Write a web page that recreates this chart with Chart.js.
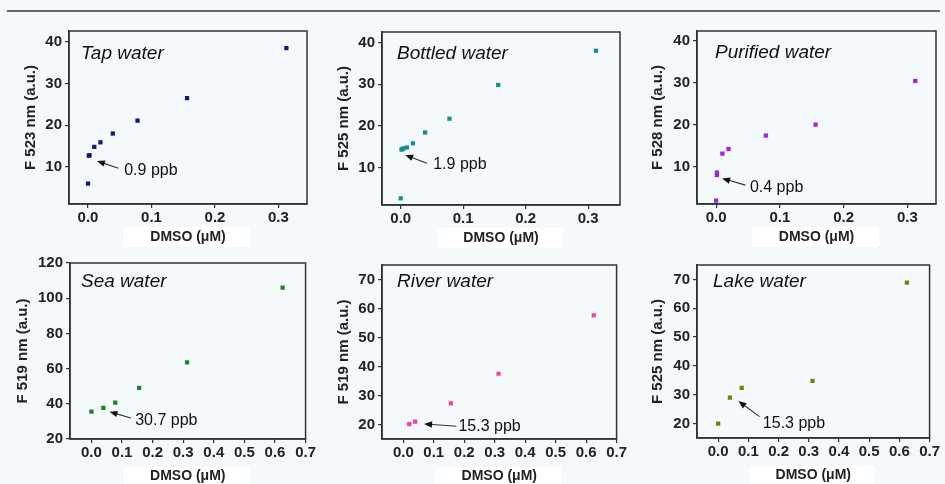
<!DOCTYPE html>
<html>
<head>
<meta charset="utf-8">
<script src="https://cdn.jsdelivr.net/npm/chart.js@4"></script>
<style>
  html, body { margin: 0; padding: 0; }
  body { width: 945px; height: 484px; overflow: hidden; background: #f4f9fc; position: relative; font-family: "Liberation Sans", Arial, sans-serif; }
  #topline { position: absolute; left: 7px; top: 10px; width: 933px; height: 2px; background: #666; }
  canvas { position: absolute; }
</style>
</head>
<body>
<div id="topline"></div>
<canvas id="c0"></canvas>
<canvas id="c1"></canvas>
<canvas id="c2"></canvas>
<canvas id="c3"></canvas>
<canvas id="c4"></canvas>
<canvas id="c5"></canvas>
<script>
// panel names and axis labels
const titles = ['Tap water', 'Bottled water', 'Purified water', 'Sea water', 'River water', 'Lake water']
const yTitles = ['F 523 nm (a.u.)', 'F 525 nm (a.u.)', 'F 528 nm (a.u.)', 'F 519 nm (a.u.)', 'F 519 nm (a.u.)', 'F 525 nm (a.u.)']
const xTitle = 'DMSO (\u03bcM)'
const lodLabels = ['0.9 ppb', '1.9 ppb', '0.4 ppb', '30.7 ppb', '15.3 ppb', '15.3 ppb']

// data (x = DMSO uM, y = fluorescence a.u.)
const tapX = [0, 0.0012, 0.0024, 0.0098, 0.0195, 0.039, 0.078, 0.156, 0.3125]
const tapY = [6.0, 12.7, 12.8, 14.8, 15.9, 18.0, 21.1, 26.5, 38.5]
const bottledX = [0, 0.0012, 0.0024, 0.0049, 0.0098, 0.0195, 0.039, 0.078, 0.156, 0.3125]
const bottledY = [2.6, 14.3, 14.4, 14.6, 14.8, 15.8, 18.4, 21.7, 29.8, 38.0]
const purifiedX = [0, 0.0012, 0.0012, 0.0098, 0.0195, 0.078, 0.156, 0.3125]
const purifiedY = [2.0, 8.1, 8.7, 13.2, 14.3, 17.5, 20.1, 30.5]
const seaX = [0, 0.039, 0.078, 0.156, 0.3125, 0.625]
const seaY = [35.5, 37.7, 40.7, 49.0, 63.6, 106.0]
const riverX = [0.0195, 0.039, 0.156, 0.3125, 0.625]
const riverY = [20.1, 21.0, 27.3, 37.5, 57.6]
const lakeX = [0, 0.039, 0.078, 0.3125, 0.625]
const lakeY = [20.0, 29.0, 32.4, 34.8, 68.9]

// tick labels
const xTicksTop = [0, 0.1, 0.2, 0.3]
const xTicksBottom = [0, 0.1, 0.2, 0.3, 0.4, 0.5, 0.6, 0.7]
const yTicksTop = [10, 20, 30, 40]
const yTicksSea = [20, 40, 60, 80, 100, 120]
const yTicksRiverLake = [20, 30, 40, 50, 60, 70]

const colors = ['#16167a', '#138f8f', '#a21ff0', '#16881a', '#ff3ea0', '#7d7d05']

// layout: plot box in page pixels, axis ranges, note anchors (data coords)
const panels = [
  { xs: tapX, ys: tapY, l: 69, r: 307, t: 29, b: 204, xr: [-0.03, 0.345], yr: [1.1, 42.6], xt: xTicksTop, yt: yTicksTop, top: true, ytPad: 22,
    note: { tx: 0.057, ty: 9.05, ax: 0.048, ay: 9.7, bx: 0.014, by: 11.4 }, tdx: 12, tdy: 23 },
  { xs: bottledX, ys: bottledY, l: 382, r: 620, t: 30, b: 205.5, xr: [-0.03, 0.351], yr: [1.0, 42.5], xt: xTicksTop, yt: yTicksTop, top: true, ytPad: 22,
    note: { tx: 0.052, ty: 10.6, ax: 0.042, ay: 11.0, bx: 0.007, by: 13.0 }, tdx: 15, tdy: 22 },
  { xs: purifiedX, ys: purifiedY, l: 697, r: 936, t: 29, b: 204, xr: [-0.03, 0.345], yr: [1.2, 42.4], xt: xTicksTop, yt: yTicksTop, top: true, ytPad: 21,
    note: { tx: 0.053, ty: 5.1, ax: 0.046, ay: 5.7, bx: 0.0094, by: 7.3 }, tdx: 18, tdy: 22 },
  { xs: seaX, ys: seaY, l: 70, r: 309, t: 261, b: 439, xr: [-0.07, 0.7], yr: [20, 120], xt: xTicksBottom, yt: yTicksSea, top: false, ytPad: 13,
    note: { tx: 0.143, ty: 30.4, ax: 0.129, ay: 31.9, bx: 0.059, by: 35.5 }, tdx: 11, tdy: 19 },
  { xs: riverX, ys: riverY, l: 382, r: 620, t: 263, b: 439, xr: [-0.07, 0.7], yr: [15, 75], xt: xTicksBottom, yt: yTicksRiverLake, top: false, ytPad: 22,
    note: { tx: 0.181, ty: 19.4, ax: 0.174, ay: 19.4, bx: 0.068, by: 20.2 }, tdx: 15, tdy: 17 },
  { xs: lakeX, ys: lakeY, l: 697, r: 933, t: 263, b: 438.5, xr: [-0.07, 0.7], yr: [15, 75], xt: xTicksBottom, yt: yTicksRiverLake, top: false, ytPad: 21,
    note: { tx: 0.148, ty: 20.1, ax: 0.137, ay: 22.4, bx: 0.067, by: 27.8 }, tdx: 16, tdy: 17 }
]

const Y_W = 69, X_H = 46, PAD_T = 10, PAD_R = 8
const ink = '#222'
const fontFam = '"Liberation Sans", Arial, sans-serif'

// frame, panel title, LOD arrow, white patch behind x title
const panelPlugin = {
  id: 'panelDeco',
  beforeDraw(chart) {
    const p = chart.options.plugins.panelDeco
    const a = chart.chartArea
    const ctx = chart.ctx
    const cx = (a.left + a.right) / 2
    const cy = a.bottom + (p.top ? 33 : 38)
    ctx.save()
    ctx.fillStyle = '#ffffff'
    ctx.fillRect(cx - 64, cy - 10, 126, p.top ? 20 : 30)
    ctx.restore()
  },
  afterDraw(chart) {
    const p = chart.options.plugins.panelDeco
    const a = chart.chartArea
    const ctx = chart.ctx
    const xs = chart.scales.x, ys = chart.scales.y
    ctx.save()
    ctx.strokeStyle = '#333'
    ctx.lineWidth = 1.5
    ctx.strokeRect(a.left, a.top, a.right - a.left, a.bottom - a.top)

    ctx.fillStyle = '#111'
    ctx.font = 'italic 19px ' + fontFam
    ctx.textBaseline = 'middle'
    ctx.textAlign = 'left'
    ctx.fillText(p.title, a.left + p.tdx, a.top + p.tdy)

    const n = p.note
    ctx.font = '16px ' + fontFam
    ctx.fillText(p.label, xs.getPixelForValue(n.tx), ys.getPixelForValue(n.ty))

    const x1 = xs.getPixelForValue(n.ax), y1 = ys.getPixelForValue(n.ay)
    const x2 = xs.getPixelForValue(n.bx), y2 = ys.getPixelForValue(n.by)
    const ang = Math.atan2(y2 - y1, x2 - x1)
    ctx.strokeStyle = '#333'
    ctx.lineWidth = 1.1
    ctx.beginPath()
    ctx.moveTo(x1, y1)
    ctx.lineTo(x2 - 5 * Math.cos(ang), y2 - 5 * Math.sin(ang))
    ctx.stroke()
    ctx.fillStyle = '#111'
    ctx.beginPath()
    ctx.moveTo(x2, y2)
    ctx.lineTo(x2 - 8 * Math.cos(ang) + 3.2 * Math.sin(ang), y2 - 8 * Math.sin(ang) - 3.2 * Math.cos(ang))
    ctx.lineTo(x2 - 8 * Math.cos(ang) - 3.2 * Math.sin(ang), y2 - 8 * Math.sin(ang) + 3.2 * Math.cos(ang))
    ctx.closePath()
    ctx.fill()
    ctx.restore()
  }
}

panels.forEach((p, i) => {
  const cv = document.getElementById('c' + i)
  const w = (p.r - p.l) + Y_W + PAD_R
  const h = (p.b - p.t) + PAD_T + X_H
  cv.width = w
  cv.height = h
  cv.style.left = (p.l - Y_W) + 'px'
  cv.style.top = (p.t - PAD_T) + 'px'

  new Chart(cv, {
    type: 'scatter',
    data: {
      datasets: [{
        data: p.xs.map((x, k) => ({ x: x, y: p.ys[k] })),
        backgroundColor: colors[i],
        borderWidth: 0,
        pointStyle: 'rect',
        pointRadius: 3
      }]
    },
    options: {
      responsive: false,
      animation: false,
      layout: { padding: { top: PAD_T, right: PAD_R, left: 0, bottom: 0 } },
      plugins: {
        legend: { display: false },
        tooltip: { enabled: false },
        panelDeco: { title: titles[i], label: lodLabels[i], note: p.note, tdx: p.tdx, tdy: p.tdy, top: p.top }
      },
      scales: {
        x: {
          type: 'linear',
          min: p.xr[0],
          max: p.xr[1],
          afterFit: (s) => { s.height = X_H },
          afterBuildTicks: (s) => { s.ticks = p.xt.map(v => ({ value: v })) },
          ticks: {
            callback: (v) => Number(v).toFixed(1),
            font: { family: fontFam, size: 15, weight: 'bold' },
            color: ink,
            padding: 1,
            maxRotation: 0,
            autoSkip: false
          },
          grid: { drawOnChartArea: false, tickLength: 4, color: '#333', lineWidth: 1.2 },
          border: { color: '#333', width: 1.5 },
          title: {
            display: true,
            text: xTitle,
            font: { family: fontFam, size: 14, weight: 'bold' },
            color: ink,
            padding: { top: 0, bottom: p.top ? 4.6 : 0 }
          }
        },
        y: {
          type: 'linear',
          min: p.yr[0],
          max: p.yr[1],
          afterFit: (s) => { s.width = Y_W },
          afterBuildTicks: (s) => { s.ticks = p.yt.map(v => ({ value: v })) },
          ticks: {
            font: { family: fontFam, size: 15, weight: 'bold' },
            color: ink,
            padding: 3
          },
          grid: { drawOnChartArea: false, tickLength: 4, color: '#333', lineWidth: 1.2 },
          border: { color: '#333', width: 1.5 },
          title: {
            display: true,
            text: yTitles[i],
            font: { family: fontFam, size: 15, weight: 'bold' },
            color: ink,
            padding: { top: p.ytPad, bottom: 0 }
          }
        }
      }
    },
    plugins: [panelPlugin]
  })
})
</script>
</body>
</html>
